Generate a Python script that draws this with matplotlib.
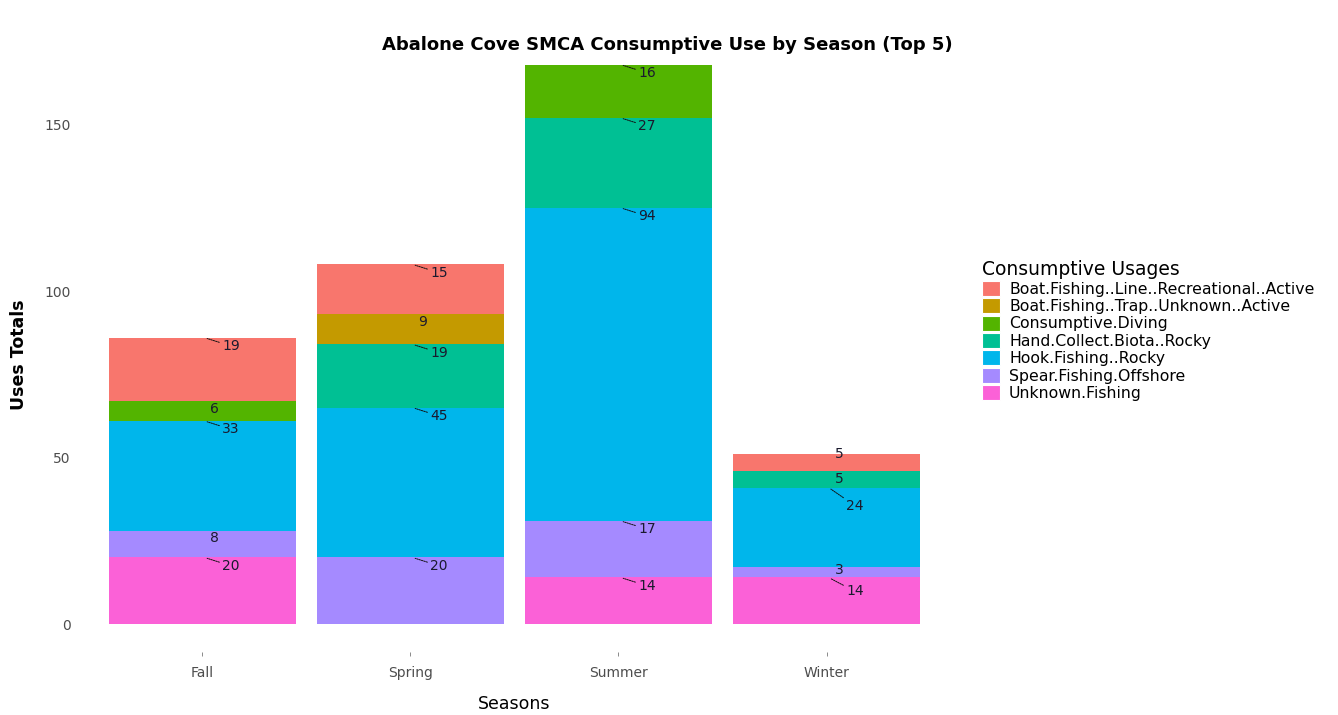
import numpy as np
import matplotlib.pyplot as plt
from matplotlib.patches import Patch

seasons = ['Fall', 'Spring', 'Summer', 'Winter']
usages = ['Boat.Fishing..Line..Recreational..Active',
          'Boat.Fishing..Trap..Unknown..Active',
          'Consumptive.Diving',
          'Hand.Collect.Biota..Rocky',
          'Hook.Fishing..Rocky',
          'Spear.Fishing.Offshore',
          'Unknown.Fishing']
colors = ['#F8766D', '#C49A00', '#53B400', '#00C094', '#00B6EB', '#A58AFF', '#FB61D7']

# counts per usage, per season (Fall, Spring, Summer, Winter)
boat_line = [19, 15, 0, 5]
boat_trap = [0, 9, 0, 0]
diving = [6, 0, 16, 0]
hand_collect = [0, 19, 27, 5]
hook = [33, 45, 94, 24]
spear = [8, 20, 17, 3]
unknown = [20, 0, 14, 14]

values = [boat_line, boat_trap, diving, hand_collect, hook, spear, unknown]

# label nudges (points) for crowded winter labels, like a repel layout
nudge = {(3, 0): (9, 0), (3, 4): (19, -13), (3, 5): (9, -1.5), (3, 6): (19, -10)}

fig = plt.figure(figsize=(13.38, 7.15), dpi=100)
ax = fig.add_axes([0.058, 0.088, 0.653, 0.831])

x = np.arange(len(seasons))
bottom = np.zeros(len(seasons))
# stack from the last level (bottom) up to the first (top), like ggplot
for k in range(len(usages) - 1, -1, -1):
    vals = np.array(values[k], dtype=float)
    ax.bar(x, vals, 0.9, bottom=bottom, color=colors[k], linewidth=0)
    for i, v in enumerate(vals):
        if v <= 0:
            continue
        top = bottom[i] + v
        if v >= 10:
            off = nudge.get((i, k), (19, -6))
            ax.annotate(str(int(v)), (x[i] + 0.01, top), xytext=off,
                        textcoords='offset points', ha='center', va='center',
                        fontsize=10, color='#1a1a2e',
                        arrowprops=dict(arrowstyle='-', lw=0.7, color='#111111',
                                        linestyle=(0, (1.5, 1)), shrinkA=0, shrinkB=2))
        else:
            off = nudge.get((i, k), (9, -5.5))
            ax.annotate(str(int(v)), (x[i], top), xytext=off,
                        textcoords='offset points', ha='center', va='center',
                        fontsize=10, color='#1a1a2e')
    bottom += vals

ax.set_xlim(-0.6, len(seasons) - 0.4)
ax.set_ylim(-8.4, 170)
ax.set_xticks(x)
ax.set_xticklabels(seasons)
ax.set_yticks([0, 50, 100, 150])
ax.tick_params(axis='x', colors='#777777', labelcolor='#4D4D4D', labelsize=10,
               length=3, width=0.6, pad=7)
ax.tick_params(axis='y', labelcolor='#4D4D4D', labelsize=10, length=0, pad=5)
for s in ax.spines.values():
    s.set_visible(False)

ax.set_xlabel('Seasons', fontsize=12.5, labelpad=11)
ax.set_ylabel('Uses Totals', fontsize=12.5, fontweight='bold', labelpad=12)
fig.text(0.499, 0.937, 'Abalone Cove SMCA Consumptive Use by Season (Top 5)',
         ha='center', va='center', fontsize=13, fontweight='bold')

handles = [Patch(facecolor=c, edgecolor='white', linewidth=0.8) for c in colors]
leg = fig.legend(handles, usages, title='Consumptive Usages', loc='upper left',
                 bbox_to_anchor=(0.7295, 0.645), frameon=False, fontsize=11.3,
                 title_fontsize=13.5, handlelength=1.15, handleheight=1.1,
                 handletextpad=0.55, labelspacing=0.1, borderaxespad=0)
leg._legend_box.align = 'left'

fig.savefig('out.png', dpi=100)
